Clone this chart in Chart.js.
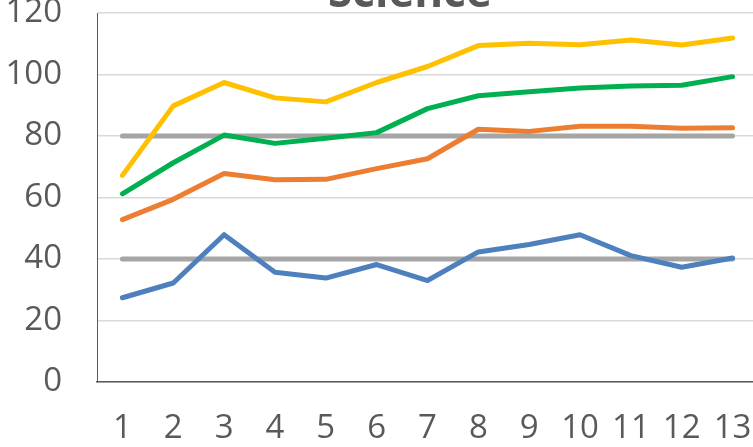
<!DOCTYPE html>
<html>
<head>
<meta charset="utf-8">
<script src="https://cdn.jsdelivr.net/npm/chart.js@4/dist/chart.umd.min.js"></script>
<style>
  html, body { margin: 0; padding: 0; overflow: hidden; background: #fff; }
  #wrap { width: 762px; height: 447px; }
</style>
</head>
<body>
<div id="wrap"><canvas id="grafica" width="762" height="447"></canvas></div>
<script>
// datos
const semanas = ['1', '2', '3', '4', '5', '6', '7', '8', '9', '10', '11', '12', '13']
const serieAzul = [27.4, 32.2, 47.9, 35.7, 33.8, 38.2, 33.0, 42.3, 44.7, 47.9, 41.1, 37.3, 40.3]
const serieNaranja = [52.8, 59.4, 67.8, 65.8, 65.9, 69.4, 72.6, 82.2, 81.5, 83.2, 83.2, 82.5, 82.7]
const serieVerde = [61.2, 71.3, 80.3, 77.6, 79.3, 81.1, 88.9, 93.1, 94.4, 95.6, 96.3, 96.5, 99.3]
const serieAmarilla = [67.2, 89.8, 97.4, 92.4, 91.1, 97.4, 102.6, 109.4, 110.2, 109.7, 111.2, 109.6, 111.9]
const limiteBajo = [40, 40, 40, 40, 40, 40, 40, 40, 40, 40, 40, 40, 40]
const limiteAlto = [80, 80, 80, 80, 80, 80, 80, 80, 80, 80, 80, 80, 80]
const titulo = 'Science'

const gris = '#595959'

// dibuja el titulo (cortado arriba como en la imagen)
const tituloPlugin = {
    id: 'tituloPlugin',
    afterDraw(chart) {
        const ctx = chart.ctx
        ctx.save()
        ctx.font = 'bold 44px "Open Sans"'
        ctx.fillStyle = gris
        ctx.textAlign = 'center'
        ctx.textBaseline = 'alphabetic'
        ctx.fillText(titulo, 410, 7)
        ctx.restore()
    }
}

function linea(data, color, orden) {
    return {
        data: data,
        borderColor: color,
        backgroundColor: color,
        borderWidth: 5,
        borderCapStyle: 'round',
        borderJoinStyle: 'round',
        pointRadius: 0,
        tension: 0,
        fill: false,
        order: orden
    }
}

const ctx = document.getElementById('grafica').getContext('2d')
const chart = new Chart(ctx, {
    type: 'line',
    data: {
        labels: semanas,
        datasets: [
            linea(serieAzul, '#4E80BD', 1),
            linea(serieNaranja, '#ED7D31', 2),
            linea(serieVerde, '#00B050', 3),
            linea(serieAmarilla, '#FFC000', 4),
            linea(limiteBajo, '#A5A5A5', 10),
            linea(limiteAlto, '#A5A5A5', 11)
        ]
    },
    options: {
        responsive: false,
        animation: false,
        devicePixelRatio: 1,
        layout: { padding: { left: 5, top: 13, right: 4, bottom: 1 } },
        plugins: {
            legend: { display: false },
            tooltip: { enabled: false }
        },
        scales: {
            x: {
                offset: true,
                grid: { display: false, drawTicks: false },
                border: { display: true, color: gris, width: 1.5 },
                ticks: {
                    color: gris,
                    padding: 30,
                    maxRotation: 0,
                    autoSkip: false,
                    font: { family: 'Open Sans', size: 33, lineHeight: 1 }
                },
                // el padding de los ticks no debe empujar el area del grafico
                afterFit: (scale) => {
                    scale.height = 64
                    scale.paddingLeft = 0
                    scale.paddingRight = 0
                }
            },
            y: {
                min: 0,
                max: 120,
                grid: { color: '#D9D9D9', lineWidth: 1.5, drawTicks: false },
                border: { display: true, color: gris, width: 1 },
                ticks: {
                    stepSize: 20,
                    color: gris,
                    padding: 35,
                    font: { family: 'Open Sans', size: 33 }
                },
                afterFit: (scale) => {
                    scale.width = 92
                    scale.paddingTop = 0
                    scale.paddingBottom = 0
                }
            }
        }
    },
    plugins: [tituloPlugin]
})
</script>
</body>
</html>
